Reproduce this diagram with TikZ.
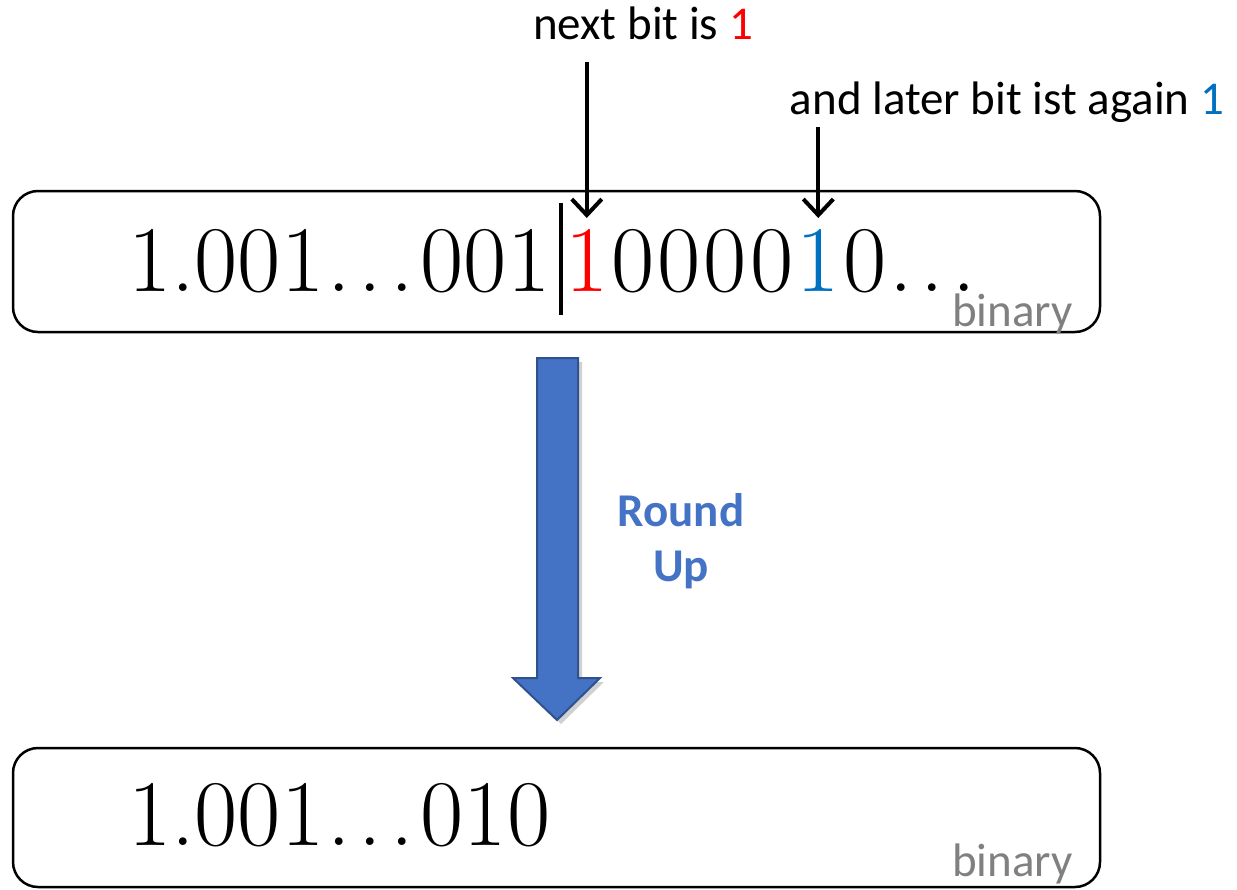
\documentclass[tikz,border=0pt]{standalone}
\usepackage{fontspec}
\newfontfamily\carlito{Carlito}
\usetikzlibrary{arrows.meta,shadows}
\definecolor{rublue}{RGB}{68,114,196}
\definecolor{rudark}{RGB}{47,82,143}
\definecolor{bitblue}{RGB}{0,112,192}
\definecolor{bingray}{RGB}{128,128,128}
\newcommand{\wdots}{\kern3pt.\kern8pt.\kern8pt.\kern7pt}
\tikzset{
  numbox/.style={draw=black, line width=2.5pt, rounded corners=25pt},
  digits/.style={inner sep=0pt, font=\fontsize{94}{94}\selectfont},
  lab/.style={inner sep=0pt, font=\carlito\fontsize{47}{50}\selectfont},
  bintag/.style={inner sep=0pt, text=bingray, font=\carlito\fontsize{47}{50}\selectfont},
  pointer/.style={line width=4pt, -{Straight Barb[length=16pt,width=30pt,line width=4pt]}},
}
\begin{document}
\begin{tikzpicture}[x=1pt,y=-1pt]
\useasboundingbox (0,0) rectangle (1237,889);
% boxes
\draw[numbox] (13,191) rectangle (1100,332);
\draw[numbox] (13,748) rectangle (1100,887);
% top number
\node[digits, anchor=base west] (t1) at (128,291) {1.001\wdots001};
\node[digits, anchor=base west, text=red] (r1) at (565,291) {1};
\node[digits, anchor=base west] (z1) at (r1.base east) {\kern3pt0\kern3pt0\kern3pt0\kern3pt0};
\node[digits, anchor=base west, text=bitblue] (b1) at ([xshift=3pt]z1.base east) {1};
\node[digits, anchor=base west] (z2) at ([xshift=3pt]b1.base east) {0\wdots};
\coordinate (bartop) at (561,203);
\coordinate (barbot) at (561,315);
\draw[line width=4pt] (bartop) -- (barbot);
\node[bintag, anchor=base east] (bin1) at (1073,326) {binary};
% labels
\node[lab, anchor=base] (l1) at (643,39) {next bit is {\color{red}1}};
\node[lab, anchor=base] (l2) at (1007,114) {and later bit ist again {\color{bitblue}1}};
\draw[pointer] (r1.north |- 0,62) -- (r1.north |- 0,218);
\draw[pointer] (b1.north |- 0,127) -- (b1.north |- 0,218);
% big arrow
\filldraw[fill=rublue, draw=rudark, line width=2pt, drop shadow={shadow xshift=4pt, shadow yshift=-4pt, opacity=0.3, fill=black!60}]
  (537,358) -- (578,358) -- (578,678) -- (600,678) -- (557,720) -- (513,678) -- (537,678) -- cycle;
\node[inner sep=0pt, text=rublue, align=center, font=\carlito\bfseries\fontsize{47}{55}\selectfont] (ru) at (681,541) {Round\\Up};
% bottom number
\node[digits, anchor=base west] (t2) at (128,845) {1.001\wdots010};
\node[bintag, anchor=base east] (bin2) at (1073,876) {binary};
\end{tikzpicture}
\end{document}
